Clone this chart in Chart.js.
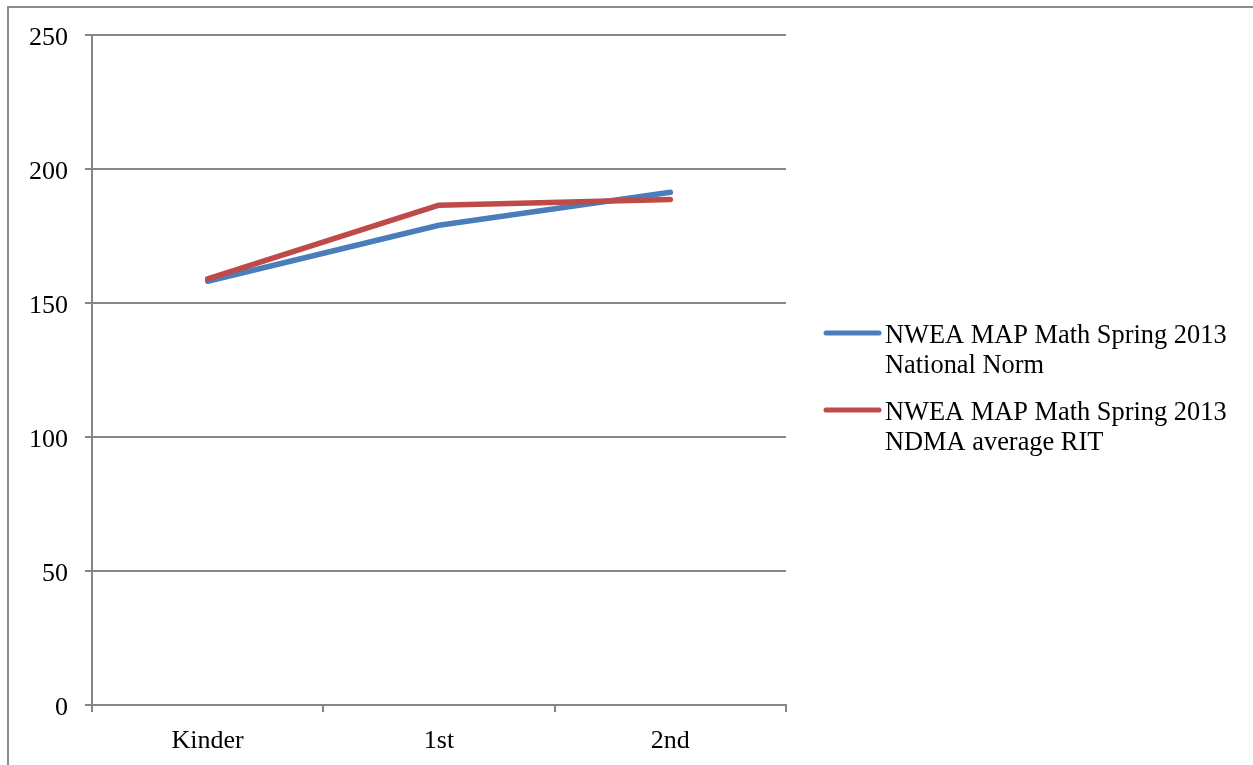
<!DOCTYPE html>
<html>
<head>
<meta charset="utf-8">
<script src="https://cdn.jsdelivr.net/npm/chart.js@4.4.3/dist/chart.umd.min.js"></script>
<style>
  html, body { margin: 0; padding: 0; background: #fff; }
  #wrap { position: absolute; left: 0; top: 0; width: 1253px; height: 765px; }
  #frame { position: absolute; left: 7px; top: 6px; right: 0; bottom: 0;
           border-top: 2px solid #8c8c8c; border-left: 2px solid #8c8c8c; }
  canvas { position: absolute; left: 0; top: 0; }
</style>
</head>
<body>
<div id="wrap">
  <div id="frame"></div>
  <canvas id="chart" width="1253" height="765"></canvas>
</div>
<script>
const grades = ['Kinder', '1st', '2nd'];
const nationalNorm = [158.1, 179.0, 191.3];
const ndmaAverage = [159.0, 186.5, 188.6];
const yTicks = [0, 50, 100, 150, 200, 250];

const seriesNames = [
  ['NWEA MAP Math Spring 2013', 'National Norm'],
  ['NWEA MAP Math Spring 2013', 'NDMA average RIT']
];
const blue = '#4a7ebb';
const red = '#be4b48';
const axisGray = '#868686';
const fontFamily = '"Liberation Serif", "DejaVu Serif", serif';

// legend to the right of the plot, two lines per entry
const sideLegend = {
  id: 'sideLegend',
  afterDraw(chart) {
    const ctx = chart.ctx;
    const x0 = chart.chartArea.right + 40;
    const entries = [
      { color: blue, lines: seriesNames[0], y: 333 },
      { color: red, lines: seriesNames[1], y: 410 }
    ];
    ctx.save();
    ctx.font = '26.4px ' + fontFamily;
    ctx.fillStyle = '#000';
    ctx.textBaseline = 'alphabetic';
    entries.forEach((e) => {
      ctx.strokeStyle = e.color;
      ctx.lineWidth = 5;
      ctx.lineCap = 'round';
      ctx.beginPath();
      ctx.moveTo(x0, e.y);
      ctx.lineTo(x0 + 53, e.y);
      ctx.stroke();
      e.lines.forEach((t, i) => {
        ctx.fillText(t, x0 + 59, e.y + 10 + i * 30);
      });
    });
    ctx.restore();
  }
};

new Chart(document.getElementById('chart'), {
  type: 'line',
  data: {
    labels: grades,
    datasets: [
      {
        label: seriesNames[0].join(' '),
        data: nationalNorm,
        borderColor: blue,
        borderWidth: 5.5,
        pointRadius: 0,
        tension: 0,
        borderCapStyle: 'round',
        borderJoinStyle: 'round',
        order: 1
      },
      {
        label: seriesNames[1].join(' '),
        data: ndmaAverage,
        borderColor: red,
        borderWidth: 5.5,
        pointRadius: 0,
        tension: 0,
        borderCapStyle: 'round',
        borderJoinStyle: 'round',
        order: 0
      }
    ]
  },
  options: {
    responsive: false,
    animation: false,
    events: [],
    layout: { padding: { left: 0, top: 35, right: 467, bottom: 0 } },
    plugins: {
      legend: { display: false },
      tooltip: { enabled: false }
    },
    scales: {
      x: {
        type: 'category',
        offset: true,
        grid: {
          offset: true,
          drawOnChartArea: false,
          drawTicks: true,
          tickLength: 7,
          color: axisGray,
          lineWidth: 2
        },
        border: { display: true, color: axisGray, width: 2 },
        ticks: {
          color: '#000',
          font: { family: fontFamily, size: 26 },
          padding: 14,
          maxRotation: 0
        },
        afterFit(scale) { scale.height = 60; }
      },
      y: {
        min: 0,
        max: 250,
        afterBuildTicks(scale) {
          scale.ticks = yTicks.map((v) => ({ value: v }));
        },
        grid: {
          color: axisGray,
          lineWidth: 2,
          tickLength: 7
        },
        border: { display: true, color: axisGray, width: 2 },
        ticks: {
          color: '#000',
          font: { family: fontFamily, size: 26 },
          padding: 17,
          labelOffset: 3
        },
        afterFit(scale) { scale.width = 92; }
      }
    }
  },
  plugins: [sideLegend]
});
</script>
</body>
</html>
